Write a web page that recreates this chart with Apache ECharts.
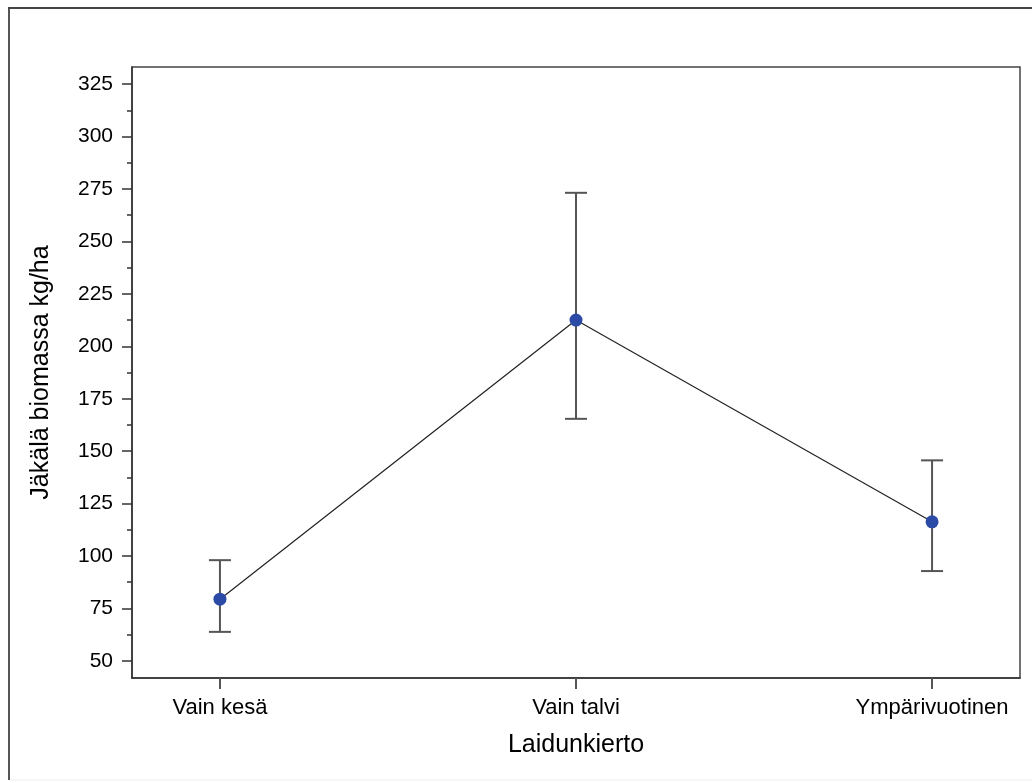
<!DOCTYPE html>
<html>
<head>
<meta charset="utf-8">
<script src="https://cdn.jsdelivr.net/npm/echarts@6/dist/echarts.min.js"></script>
<style>
  html, body { margin: 0; padding: 0; background: #fff; }
  #chart { width: 1032px; height: 783px; }
</style>
</head>
<body>
<div id="chart"></div>
<script>
// categories and values
const categories = ['Vain kesä', 'Vain talvi', 'Ympärivuotinen'];
const means = [79.4, 212.5, 116.3];
const upper = [98.0, 273.2, 145.6];
const lower = [63.8, 165.4, 92.8];
const yTicks = [50, 75, 100, 125, 150, 175, 200, 225, 250, 275, 300, 325];
const yMinorTicks = [62.5, 87.5, 112.5, 137.5, 162.5, 187.5, 212.5, 237.5, 262.5, 287.5, 312.5];

const FONT = 'Liberation Sans, Arial, sans-serif';
const Y_MIN = 41.8, Y_MAX = 333.2;

const chart = echarts.init(document.getElementById('chart'));

const lineData = means.map((v, i) => [i, v]);
const errData = means.map((v, i) => [i, lower[i], upper[i]]);

const option = {
  animation: false,
  backgroundColor: '#fff',
  graphic: [
    // outer frame (left + top dark, bottom faint)
    { type: 'line', shape: { x1: 9, y1: 8, x2: 9, y2: 780 }, style: { stroke: '#555', lineWidth: 2 } },
    { type: 'line', shape: { x1: 8, y1: 8, x2: 1032, y2: 8 }, style: { stroke: '#444', lineWidth: 2 } },
    { type: 'line', shape: { x1: 10, y1: 780, x2: 1032, y2: 780 }, style: { stroke: '#eeeeee', lineWidth: 1 } }
  ],
  grid: {
    left: 132, top: 67, right: 12, bottom: 105,
    show: true, borderColor: '#444', borderWidth: 1.5, backgroundColor: 'transparent'
  },
  xAxis: {
    type: 'value',
    min: -0.247, max: 2.247,
    splitLine: { show: false },
    axisLine: { show: true, onZero: false, lineStyle: { color: '#333', width: 1.5 } },
    axisTick: { show: true, customValues: [0, 1, 2], length: 11, lineStyle: { color: '#555', width: 2 } },
    axisLabel: {
      customValues: [0, 1, 2],
      formatter: v => categories[Math.round(v)],
      color: '#000', fontSize: 22, fontFamily: FONT, margin: 19
    },
    name: 'Laidunkierto',
    nameLocation: 'middle',
    nameGap: 55,
    nameTextStyle: { color: '#000', fontSize: 25, fontFamily: FONT }
  },
  yAxis: [
    {
      type: 'value',
      min: Y_MIN, max: Y_MAX,
      splitLine: { show: false },
      axisLine: { show: true, onZero: false, lineStyle: { color: '#333', width: 1.5 } },
      axisTick: { show: true, customValues: yTicks, length: 10, lineStyle: { color: '#333', width: 1.5 } },
      axisLabel: {
        customValues: yTicks,
        color: '#000', fontSize: 21, fontFamily: FONT, margin: 19
      },
      name: 'Jäkälä biomassa kg/ha',
      nameLocation: 'middle',
      nameGap: 78,
      nameTextStyle: { color: '#000', fontSize: 25, fontFamily: FONT }
    },
    {
      // minor ticks only
      type: 'value',
      position: 'left',
      min: Y_MIN, max: Y_MAX,
      splitLine: { show: false },
      axisLine: { show: false, onZero: false },
      axisTick: { show: true, customValues: yMinorTicks, length: 5, lineStyle: { color: '#333', width: 1.5 } },
      axisLabel: { show: false }
    }
  ],
  series: [
    {
      type: 'custom',
      name: 'error',
      z: 2,
      renderItem: function (params, api) {
        const x = api.value(0);
        const lo = api.coord([x, api.value(1)]);
        const hi = api.coord([x, api.value(2)]);
        const half = 11;
        const style = { stroke: '#555', lineWidth: 2 };
        return {
          type: 'group',
          children: [
            { type: 'line', shape: { x1: lo[0], y1: lo[1], x2: hi[0], y2: hi[1] }, style },
            { type: 'line', shape: { x1: hi[0] - half, y1: hi[1], x2: hi[0] + half, y2: hi[1] }, style },
            { type: 'line', shape: { x1: lo[0] - half, y1: lo[1], x2: lo[0] + half, y2: lo[1] }, style }
          ]
        };
      },
      encode: { x: 0, y: [1, 2] },
      data: errData
    },
    {
      type: 'line',
      name: 'mean',
      z: 3,
      data: lineData,
      symbol: 'circle',
      symbolSize: 13,
      lineStyle: { color: '#222', width: 1.2 },
      itemStyle: { color: '#2b4aa5', borderWidth: 0 }
    }
  ]
};

chart.setOption(option);
</script>
</body>
</html>
